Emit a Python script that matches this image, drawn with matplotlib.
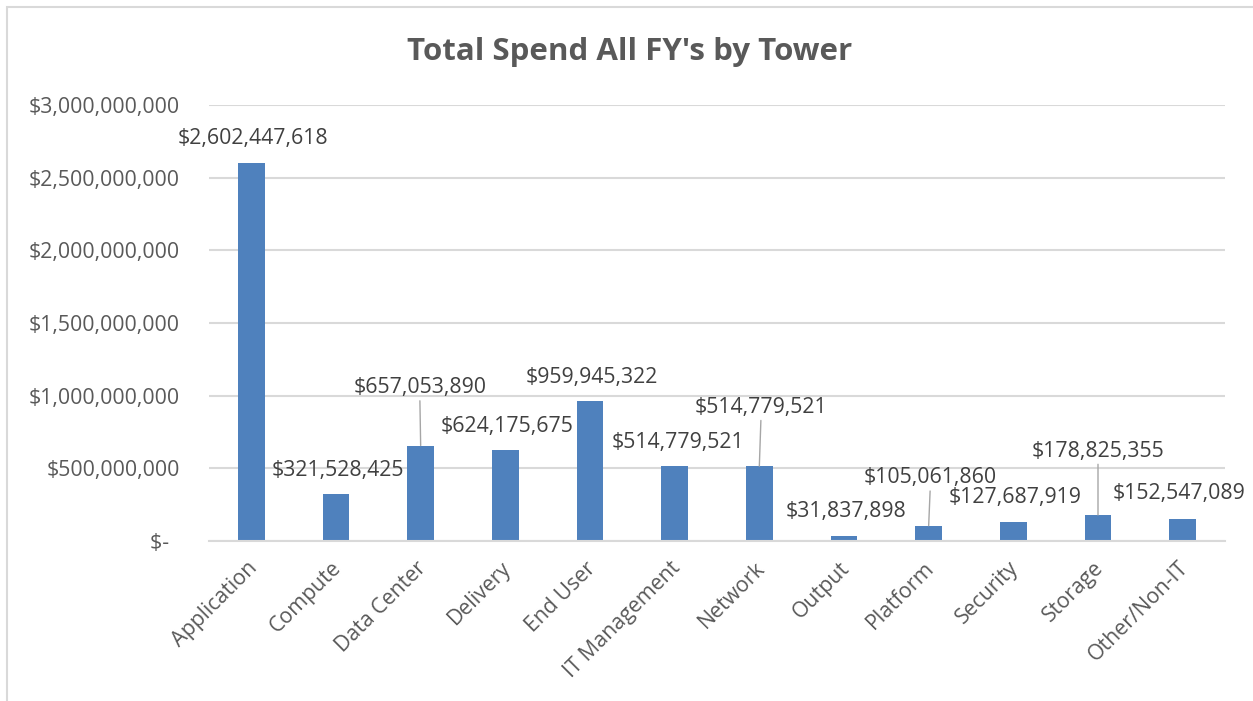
import matplotlib.pyplot as plt
import matplotlib.transforms as mtransforms
from matplotlib.patches import Rectangle
from matplotlib.ticker import FuncFormatter

plt.rcParams['font.family'] = ['Open Sans', 'DejaVu Sans']

towers = ["Application", "Compute", "Data Center", "Delivery", "End User",
          "IT Management", "Network", "Output", "Platform", "Security",
          "Storage", "Other/Non-IT"]
spend = [2602447618, 321528425, 657053890, 624175675, 959945322,
         514779521, 514779521, 31837898, 105061860, 127687919,
         178825355, 152547089]
y_ticks = [0, 500000000, 1000000000, 1500000000, 2000000000,
           2500000000, 3000000000]

# where Excel put each data label, pixels from the top of the bar
label_offsets = [(2, 24), (2, 24), (-1, 58), (2, 24), (2, 24), (3, 24),
                 (2, 59), (2, 25), (2, 48), (2, 25), (0, 64), (-4, 25)]
has_leader = [False, False, True, False, False, False,
              True, False, True, False, True, False]

text_col = "#595959"
bar_col = "#4f81bd"
grid_col = "#d9d9d9"
fs = 15.3


def money(v, pos=None):
    if v == 0:
        return "$-  "
    return "${:,.0f}".format(v)


fig = plt.figure(figsize=(12.53, 7.01), dpi=100)
# chart area border
fig.patches.append(Rectangle((7 / 1253, -0.01), 1.1, 1 - 7 / 701 + 0.01,
                             transform=fig.transFigure, fill=False,
                             edgecolor=grid_col, linewidth=1.5))

ax = fig.add_axes([209 / 1253, 1 - 541 / 701, 1016 / 1253, 436 / 701])
x = list(range(len(towers)))
ax.bar(x, spend, width=0.315, color=bar_col, zorder=3)

ax.set_xlim(-0.5, len(towers) - 0.5)
ax.set_ylim(0, 3000000000)
ax.set_yticks(y_ticks)
ax.yaxis.set_major_formatter(FuncFormatter(money))
ax.grid(True, axis="y", color=grid_col, linewidth=1.5, zorder=0)

for side in ["top", "right", "left"]:
    ax.spines[side].set_visible(False)
ax.spines["bottom"].set_color(grid_col)
ax.spines["bottom"].set_linewidth(1.5)
ax.spines["bottom"].set_zorder(4)

ax.tick_params(axis="both", length=0, labelsize=fs, labelcolor=text_col)
ax.tick_params(axis="y", pad=21)
ax.set_xticks(x)
ax.set_xticklabels(towers, rotation=45, ha="right", rotation_mode="anchor")
ax.tick_params(axis="x", pad=12)
# nudge the slanted labels a little to the left, like Excel does
shift = mtransforms.ScaledTranslation(-5 / 100, 0, fig.dpi_scale_trans)
for lab in ax.get_xticklabels():
    lab.set_transform(lab.get_transform() + shift)

# data labels
for i, v in enumerate(spend):
    dx, dy = label_offsets[i]
    arrow = None
    if has_leader[i]:
        arrow = dict(arrowstyle="-", color="#a6a6a6", linewidth=1.0,
                     shrinkA=0, shrinkB=0)
    ax.annotate(money(v), xy=(i, v), xytext=(dx, dy),
                textcoords="offset pixels", ha="center", va="center",
                fontsize=fs, color="#404040", arrowprops=arrow,
                annotation_clip=False, zorder=5)

fig.text(630 / 1253, 1 - 60 / 701, "Total Spend All FY's by Tower",
         ha="center", va="baseline", fontsize=22.5, fontweight="bold",
         color=text_col)

plt.savefig("out.png", dpi=100)
